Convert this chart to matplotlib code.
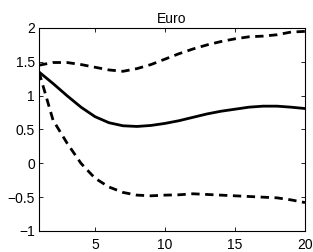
import matplotlib
matplotlib.use("Agg")
import matplotlib.pyplot as plt

# horizon and impulse response bands
horizon = list(range(1, 21))
median = [1.35, 1.18, 1.00, 0.83, 0.69, 0.60, 0.555, 0.545, 0.56, 0.59,
          0.63, 0.68, 0.73, 0.77, 0.80, 0.83, 0.845, 0.845, 0.83, 0.81]
upper = [1.45, 1.49, 1.49, 1.46, 1.42, 1.38, 1.36, 1.40, 1.46, 1.54,
         1.62, 1.69, 1.75, 1.80, 1.84, 1.87, 1.88, 1.90, 1.94, 1.95]
lower = [1.35, 0.64, 0.30, 0.00, -0.22, -0.35, -0.43, -0.47, -0.48, -0.47,
         -0.465, -0.45, -0.46, -0.47, -0.48, -0.49, -0.50, -0.51, -0.54, -0.58]
yticks = [-1, -0.5, 0, 0.5, 1, 1.5, 2]
xticks = [5, 10, 15, 20]

plt.rcParams['font.family'] = ['Liberation Sans', 'DejaVu Sans']

fig = plt.figure(figsize=(3.13, 2.52), dpi=100)
ax = fig.add_axes([39/313, 1 - 231/252, 266/313, 203/252])

ax.plot(horizon, median, color='k', lw=2)
ax.plot(horizon, upper, color='k', lw=2, dashes=(3, 2))
ax.plot(horizon, lower, color='k', lw=2, dashes=(3, 2))

ax.set_xlim(1, 20)
ax.set_ylim(-1, 2)
ax.set_xticks(xticks)
ax.set_yticks(yticks)
ax.set_yticklabels(['\u22121', '\u22120.5', '0', '0.5', '1', '1.5', '2'])
ax.tick_params(direction='in', length=3, width=0.6, top=True, right=True,
               labelsize=10)
ax.tick_params(axis='x', pad=5)
ax.tick_params(axis='y', pad=3)
for s in ax.spines.values():
    s.set_linewidth(0.8)
ax.set_title('Euro', fontsize=10, pad=3.5)

fig.savefig('out.png', dpi=100)
